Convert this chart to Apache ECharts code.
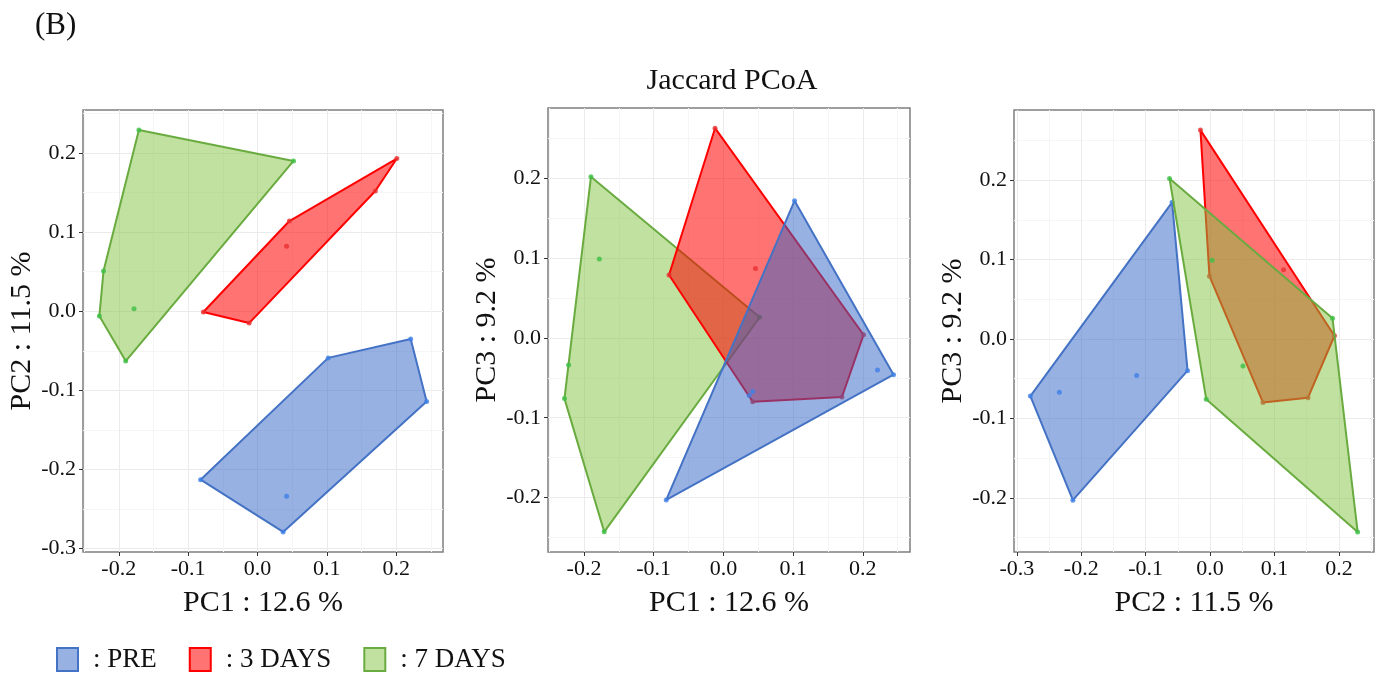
<!DOCTYPE html>
<html><head><meta charset="utf-8">
<script src="https://cdn.jsdelivr.net/npm/echarts@6/dist/echarts.min.js"></script>
<style>html,body{margin:0;padding:0;background:#fff}#c{width:1376px;height:675px}</style>
</head><body><div id="c"></div>
<script>
// ---- data ----
const groups = ['PRE', '3 DAYS', '7 DAYS'];

const pre_PC1 = [0.221, 0.244, 0.037, -0.082, 0.102, 0.042];
const pre_PC2 = [-0.035, -0.114, -0.279, -0.213, -0.059, -0.234];
const pre_PC3 = [-0.040, -0.046, -0.072, -0.203, 0.172, -0.067];

const d3_PC1 = [-0.012, -0.078, 0.201, 0.170, 0.046, 0.042];
const d3_PC2 = [-0.015, -0.001, 0.193, 0.152, 0.114, 0.082];
const d3_PC3 = [0.263, 0.079, 0.004, -0.074, 0.087, -0.080];

const d7_PC1 = [-0.171, 0.052, -0.222, -0.228, -0.190, -0.178];
const d7_PC2 = [0.229, 0.190, 0.051, -0.006, -0.063, 0.003];
const d7_PC3 = [-0.243, 0.026, -0.034, -0.076, 0.202, 0.099];

const tickValues = [-0.3, -0.2, -0.1, 0.0, 0.1, 0.2];

const axisTitles = { PC1: 'PC1 : 12.6 %', PC2: 'PC2 : 11.5 %', PC3: 'PC3 : 9.2 %' };
const chartTitle = 'Jaccard PCoA';
const panelTag = '(B)';

// ---- build ----
const coords = {
  'PRE':    { PC1: pre_PC1, PC2: pre_PC2, PC3: pre_PC3 },
  '3 DAYS': { PC1: d3_PC1,  PC2: d3_PC2,  PC3: d3_PC3 },
  '7 DAYS': { PC1: d7_PC1,  PC2: d7_PC2,  PC3: d7_PC3 }
};
const styles = {
  'PRE':    { fill: 'rgba(50,100,200,0.5)',  stroke: '#4472c4', dot: '#3f7fe6' },
  '3 DAYS': { fill: 'rgba(255,0,0,0.55)',    stroke: '#ff0000', dot: '#e83030' },
  '7 DAYS': { fill: 'rgba(130,195,65,0.5)',  stroke: '#6aab40', dot: '#3cbf45' }
};
const FONT = "'Liberation Serif', 'Times New Roman', serif";

function expandRange(dim) {
  let mn = Infinity, mx = -Infinity;
  groups.forEach(g => coords[g][dim].forEach(v => { mn = Math.min(mn, v); mx = Math.max(mx, v); }));
  const pad = (mx - mn) * 0.05;
  return [mn - pad, mx + pad];
}

function hull(pts) {
  const p = pts.slice().sort((a, b) => a[0] - b[0] || a[1] - b[1]);
  const cross = (o, a, b) => (a[0] - o[0]) * (b[1] - o[1]) - (a[1] - o[1]) * (b[0] - o[0]);
  const lower = [], upper = [];
  for (const q of p) { while (lower.length >= 2 && cross(lower[lower.length - 2], lower[lower.length - 1], q) <= 0) lower.pop(); lower.push(q); }
  for (let i = p.length - 1; i >= 0; i--) { const q = p[i]; while (upper.length >= 2 && cross(upper[upper.length - 2], upper[upper.length - 1], q) <= 0) upper.pop(); upper.push(q); }
  upper.pop(); lower.pop();
  return lower.concat(upper);
}

const labelFmt = v => {
  const r = Math.round(v * 10) / 10;
  if (Math.abs(v - r) > 1e-6) return '';
  return (Math.abs(r) < 1e-9 ? 0 : r).toFixed(1);
};

const panels = [
  { x: 'PC1', y: 'PC2', grid: { left: 83, top: 110, width: 360, height: 442 }, order: ['7 DAYS', '3 DAYS', 'PRE'], yGap: 44 },
  { x: 'PC1', y: 'PC3', grid: { left: 548, top: 108, width: 362, height: 444 }, order: ['7 DAYS', '3 DAYS', 'PRE'], yGap: 40 },
  { x: 'PC2', y: 'PC3', grid: { left: 1014, top: 110, width: 360, height: 442 }, order: ['PRE', '3 DAYS', '7 DAYS'], yGap: 37 }
];

const grids = [], xAxes = [], yAxes = [], series = [];
panels.forEach((pn, i) => {
  grids.push(Object.assign({ show: true, borderColor: '#7f7f7f', borderWidth: 1.5, backgroundColor: '#fff' }, pn.grid));
  const xr = expandRange(pn.x), yr = expandRange(pn.y);
  const tv = r => tickValues.filter(v => v >= r[0] && v <= r[1]);
  const common = {
    type: 'value', gridIndex: i, nameLocation: 'middle',
    nameTextStyle: { fontFamily: FONT, fontSize: 30, color: '#111' },
    axisLine: { show: false, onZero: false },
    splitLine: { show: true, lineStyle: { color: '#ebebeb', width: 1 } },
    minorTick: { show: false, splitNumber: 2 },
    minorSplitLine: { show: true, lineStyle: { color: '#f5f5f5', width: 1 } },
    splitNumber: 5
  };
  xAxes.push(Object.assign({}, common, {
    position: 'bottom',
    min: xr[0], max: xr[1], name: axisTitles[pn.x], nameGap: 36,
    axisTick: { show: true, length: 4, customValues: tv(xr), lineStyle: { color: '#333', width: 1 } },
    axisLabel: { formatter: labelFmt, customValues: tv(xr), fontFamily: FONT, fontSize: 22, color: '#111', margin: 6 }
  }));
  yAxes.push(Object.assign({}, common, {
    position: 'left',
    min: yr[0], max: yr[1], name: axisTitles[pn.y], nameGap: pn.yGap,
    axisTick: { show: true, length: 4, customValues: tv(yr), lineStyle: { color: '#333', width: 1 } },
    axisLabel: { formatter: labelFmt, customValues: tv(yr), fontFamily: FONT, fontSize: 22, color: '#111', margin: 7 }
  }));
  pn.order.forEach((g, k) => {
    const pts = coords[g][pn.x].map((v, j) => [v, coords[g][pn.y][j]]);
    const h = hull(pts);
    series.push({
      type: 'custom', name: g, xAxisIndex: i, yAxisIndex: i, z: 2 + k, silent: true,
      data: pts, encode: { x: 0, y: 1 },
      renderItem: (params, api) => {
        if (params.dataIndex !== 0) return null;
        return {
          type: 'polygon',
          shape: { points: h.map(p => api.coord(p)) },
          style: { fill: styles[g].fill, stroke: styles[g].stroke, lineWidth: 2, lineJoin: 'round' }
        };
      }
    });
    series.push({
      type: 'scatter', name: g, xAxisIndex: i, yAxisIndex: i, z: 2 + k, silent: true,
      data: pts, symbolSize: 5, itemStyle: { color: styles[g].dot }
    });
  });
});

const chart = echarts.init(document.getElementById('c'), null, { renderer: 'canvas' });
chart.setOption({
  animation: false,
  backgroundColor: '#fff',
  grid: grids, xAxis: xAxes, yAxis: yAxes, series: series,
  legend: {
    left: 56, top: 646, padding: 0, itemWidth: 21, itemHeight: 23, itemGap: 32, icon: 'rect', selectedMode: false,
    data: groups.map(g => ({ name: g, itemStyle: { color: styles[g].fill, borderColor: styles[g].stroke, borderWidth: 2 } })),
    formatter: n => ': ' + n,
    textStyle: { fontFamily: FONT, fontSize: 27, color: '#111', padding: [0, 0, 0, 10] }
  },
  graphic: [
    { type: 'text', left: 35, top: 10, style: { text: panelTag, font: '31px ' + FONT, fill: '#111' } },
    { type: 'text', x: 732, y: 66, style: { text: chartTitle, font: '30px ' + FONT, fill: '#111', textAlign: 'center' } }
  ]
});
</script></body></html>
